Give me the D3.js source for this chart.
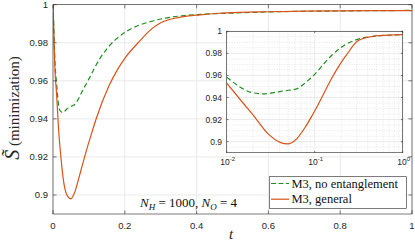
<!DOCTYPE html>
<html><head><meta charset="utf-8">
<script src="https://cdn.jsdelivr.net/npm/d3@7"></script>
<style>body{margin:0;background:#fff}svg{display:block}</style>
</head><body>
<script>
// ---- data ----
const tGeneral = [0,0.002,0.005,0.01,0.0161,0.02,0.0296,0.0403,0.05,0.0596,0.0773,0.094,0.109,0.122,0.155,0.18,0.202,0.242,0.27,0.3,0.363,0.41,0.46,0.52,0.6,0.7,0.8,1];
const sGeneral = [1,0.988,0.968,0.953,0.933,0.924,0.907,0.8994,0.898,0.901,0.9126,0.924,0.9333,0.941,0.957,0.966,0.9723,0.981,0.9865,0.9905,0.9937,0.9947,0.9955,0.996,0.9963,0.9966,0.9968,0.9969];
const tNoEnt = [0,0.002,0.005,0.01,0.0145,0.0192,0.0272,0.0358,0.0458,0.0596,0.0843,0.1,0.13,0.16,0.193,0.224,0.26,0.3,0.36,0.41,0.5,0.6,0.8,1];
const sNoEnt = [1,0.99,0.972,0.9585,0.949,0.9445,0.9433,0.9447,0.9462,0.9474,0.9555,0.961,0.9715,0.979,0.9845,0.988,0.9905,0.9925,0.9942,0.9949,0.9956,0.9962,0.9967,0.997];
const xTicks = [0,0.2,0.4,0.6,0.8,1];
const yTicks = [0.9,0.92,0.94,0.96,0.98,1];
const insetXTicks = [0.01,0.1,1];
const insetXLabels = ["-2","-1","0"];
const legendLabels = ["M3, no entanglement","M3, general"];

const W=415,H=241;
const green="#1f8f1f", orange="#d95319", axisCol="#262626", gridCol="#e3e3e3";
const svg=d3.select("body").append("svg").attr("width",W).attr("height",H);
const defs=svg.append("defs");

const series=[
  {t:tNoEnt,s:sNoEnt,color:green,dash:"5,3",label:legendLabels[0]},
  {t:tGeneral,s:sGeneral,color:orange,dash:null,label:legendLabels[1]}
];

// ---- main axes ----
const M={l:53,r:412,t:4.7,b:214};
const x=d3.scaleLinear().domain([0,1]).range([M.l,M.r]);
const y=d3.scaleLinear().domain([0.89,1]).range([M.b,M.t]);
defs.append("clipPath").attr("id","cm").append("rect").attr("x",M.l).attr("y",M.t).attr("width",M.r-M.l).attr("height",M.b-M.t);

const g=svg.append("g");
g.append("g").selectAll("line").data(xTicks).join("line")
 .attr("x1",d=>x(d)).attr("x2",d=>x(d)).attr("y1",M.t).attr("y2",M.b).attr("stroke",gridCol).attr("stroke-width",0.8);
g.append("g").selectAll("line").data(yTicks).join("line")
 .attr("y1",d=>y(d)).attr("y2",d=>y(d)).attr("x1",M.l).attr("x2",M.r).attr("stroke",gridCol).attr("stroke-width",0.8);

const line=(xs,ys)=>d3.line().x((d,i)=>xs(d[0])).y(d=>ys(d[1])).curve(d3.curveMonotoneX);
series.forEach(se=>{
  const pts=se.t.map((t,i)=>[t,se.s[i]]);
  g.append("path").datum(pts).attr("clip-path","url(#cm)")
   .attr("d",line(x,y)).attr("fill","none").attr("stroke",se.color).attr("stroke-width",1.2)
   .attr("stroke-dasharray",se.dash);
});

// axes with inward ticks
function axesBox(gg,xs,ys,box,xt,yt,tl){
  gg.append("rect").attr("x",box.l).attr("y",box.t).attr("width",box.r-box.l).attr("height",box.b-box.t)
   .attr("fill","none").attr("stroke",axisCol).attr("stroke-width",0.6);
  xt.forEach(d=>{
    gg.append("line").attr("x1",xs(d)).attr("x2",xs(d)).attr("y1",box.b).attr("y2",box.b-tl).attr("stroke",axisCol).attr("stroke-width",0.6);
    gg.append("line").attr("x1",xs(d)).attr("x2",xs(d)).attr("y1",box.t).attr("y2",box.t+tl).attr("stroke",axisCol).attr("stroke-width",0.6);
  });
  yt.forEach(d=>{
    gg.append("line").attr("y1",ys(d)).attr("y2",ys(d)).attr("x1",box.l).attr("x2",box.l+tl).attr("stroke",axisCol).attr("stroke-width",0.6);
    gg.append("line").attr("y1",ys(d)).attr("y2",ys(d)).attr("x1",box.r).attr("x2",box.r-tl).attr("stroke",axisCol).attr("stroke-width",0.6);
  });
}
axesBox(g,x,y,M,xTicks,yTicks,3.6);

const fmt=d=>d3.format("~g")(d);
g.append("g").selectAll("text").data(xTicks).join("text")
 .attr("x",d=>x(d)).attr("y",229).attr("text-anchor","middle")
 .attr("font-family","Liberation Sans, Arial").attr("font-size",9.5).attr("fill",axisCol).text(fmt);
g.append("g").selectAll("text").data(yTicks).join("text")
 .attr("x",48).attr("y",d=>y(d)+3.3).attr("text-anchor","end")
 .attr("font-family","Liberation Sans, Arial").attr("font-size",9.5).attr("fill",axisCol).text(fmt);

// axis labels
g.append("text").attr("x",231).attr("y",239).attr("text-anchor","middle")
 .attr("font-family","Liberation Serif, Times New Roman").attr("font-style","italic").attr("font-size",15).attr("fill",axisCol).text("t");
const yl=g.append("text").attr("transform","translate(19,108) rotate(-90)").attr("text-anchor","middle")
 .attr("font-family","Liberation Serif, Times New Roman").attr("fill",axisCol);
yl.append("tspan").attr("font-size",20).attr("font-style","italic").text("S\u0303");
yl.append("tspan").attr("font-size",15).text(" (minimization)");

// annotation
const ann=g.append("text").attr("x",237).attr("y",207).attr("text-anchor","end")
 .attr("font-family","Liberation Serif, Times New Roman").attr("font-size",13).attr("fill","#111");
ann.append("tspan").attr("font-style","italic").text("N");
ann.append("tspan").attr("font-style","italic").attr("font-size",9).attr("dy",2.5).text("H");
ann.append("tspan").attr("dy",-2.5).text(" = 1000, ");
ann.append("tspan").attr("font-style","italic").text("N");
ann.append("tspan").attr("font-style","italic").attr("font-size",9).attr("dy",2.5).text("O");
ann.append("tspan").attr("dy",-2.5).text(" = 4");

// ---- inset ----
const I={l:226.7,r:402.7,t:31.3,b:152.7};
const xi=d3.scaleLog().domain([0.01,1]).range([I.l,I.r]);
const yi=d3.scaleLinear().domain([0.89,1]).range([I.b,I.t]);
defs.append("clipPath").attr("id","ci").append("rect").attr("x",I.l).attr("y",I.t).attr("width",I.r-I.l).attr("height",I.b-I.t);
const gi=svg.append("g");
gi.append("rect").attr("x",I.l).attr("y",I.t).attr("width",I.r-I.l).attr("height",I.b-I.t).attr("fill","#fff");
const minorX=[];
[0.01,0.1].forEach(b=>{for(let k=2;k<=9;k++)minorX.push(b*k);});
const minorY=d3.range(0.895,1,0.005).filter(v=>Math.abs(Math.round(v*50)-v*50)>1e-6);
gi.append("g").selectAll("line").data(minorX).join("line")
 .attr("x1",d=>xi(d)).attr("x2",d=>xi(d)).attr("y1",I.t).attr("y2",I.b).attr("stroke","#cfcfcf").attr("stroke-width",0.5).attr("stroke-dasharray","1,1.5");
gi.append("g").selectAll("line").data(minorY).join("line")
 .attr("y1",d=>yi(d)).attr("y2",d=>yi(d)).attr("x1",I.l).attr("x2",I.r).attr("stroke","#cfcfcf").attr("stroke-width",0.5).attr("stroke-dasharray","1,1.5");
gi.append("g").selectAll("line").data(insetXTicks).join("line")
 .attr("x1",d=>xi(d)).attr("x2",d=>xi(d)).attr("y1",I.t).attr("y2",I.b).attr("stroke",gridCol).attr("stroke-width",0.7);
gi.append("g").selectAll("line").data(yTicks).join("line")
 .attr("y1",d=>yi(d)).attr("y2",d=>yi(d)).attr("x1",I.l).attr("x2",I.r).attr("stroke",gridCol).attr("stroke-width",0.7);
series.forEach(se=>{
  const pts=se.t.map((t,i)=>[t,se.s[i]]).filter(p=>p[0]>=0.01);
  gi.append("path").datum(pts).attr("clip-path","url(#ci)")
   .attr("d",line(xi,yi)).attr("fill","none").attr("stroke",se.color).attr("stroke-width",1.2)
   .attr("stroke-dasharray",se.dash);
});
axesBox(gi,xi,yi,I,insetXTicks,yTicks,1.8);
gi.append("g").selectAll("text").data(yTicks).join("text")
 .attr("x",222).attr("y",d=>yi(d)+3).attr("text-anchor","end")
 .attr("font-family","Liberation Sans, Arial").attr("font-size",8.5).attr("fill",axisCol).text(fmt);
insetXTicks.forEach((d,i)=>{
  const t=gi.append("text").attr("x",xi(d)+1).attr("y",165).attr("text-anchor","middle")
   .attr("font-family","Liberation Sans, Arial").attr("font-size",8.5).attr("fill",axisCol);
  t.append("tspan").text("10");
  t.append("tspan").attr("font-size",6).attr("dy",-4).text(insetXLabels[i]);
});

// ---- legend ----
const L={x:269.3,y:176.7,w:137.4,h:31.6};
const gl=svg.append("g");
gl.append("rect").attr("x",L.x).attr("y",L.y).attr("width",L.w).attr("height",L.h).attr("fill","#fff").attr("stroke","#262626").attr("stroke-width",0.6);
series.forEach((se,i)=>{
  const yy=183.5+i*15.7;
  gl.append("line").attr("x1",271).attr("x2",289).attr("y1",yy).attr("y2",yy).attr("stroke",se.color).attr("stroke-width",1.2).attr("stroke-dasharray",se.dash?"5,2.5":null);
  gl.append("text").attr("x",291.5).attr("y",yy+4).attr("font-family","Liberation Serif, Times New Roman").attr("font-size",12.5).attr("fill","#111").text(se.label);
});
</script>
</body></html>
